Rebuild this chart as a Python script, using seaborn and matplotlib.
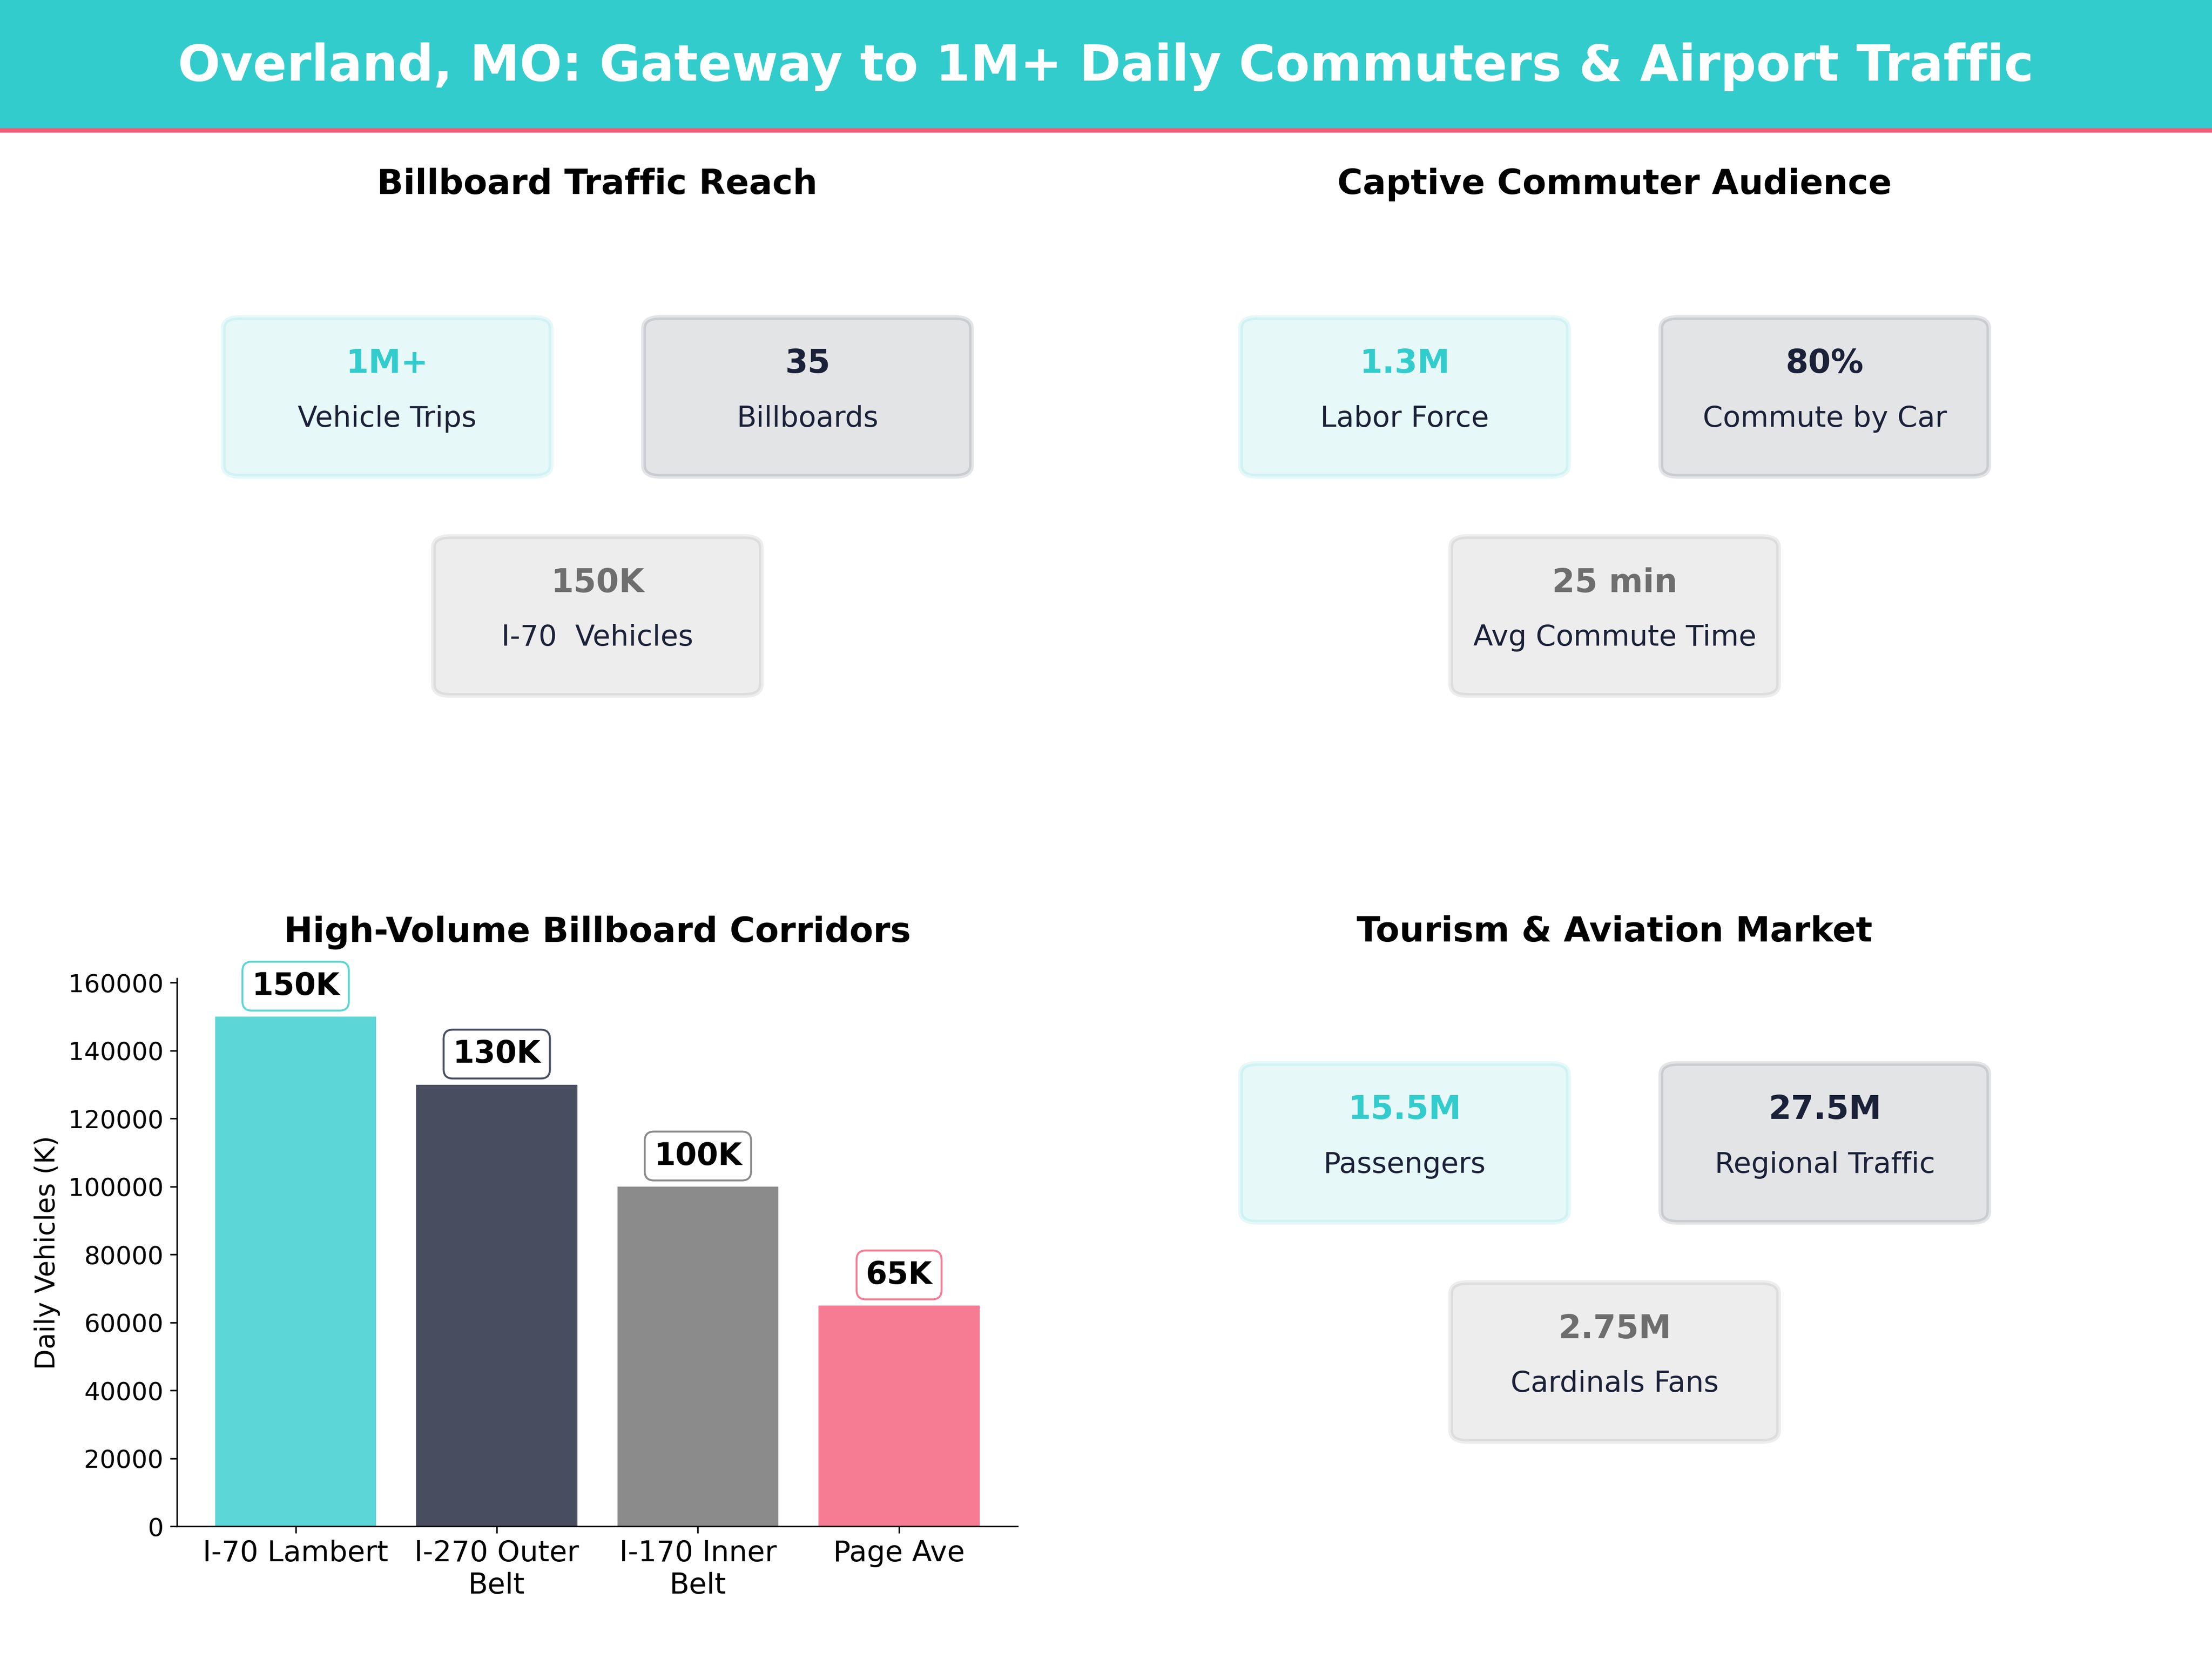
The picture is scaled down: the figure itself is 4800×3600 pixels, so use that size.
import matplotlib
matplotlib.use("Agg")
import matplotlib.pyplot as plt
from matplotlib.patches import FancyBboxPatch, Rectangle
import pandas as pd
import seaborn as sns

# Colours
TEAL = "#33CCCC"
NAVY = "#1A2138"
GRAY = "#6E6E6E"
PINK = "#F45B79"

HEADER = "Overland, MO: Gateway to 1M+ Daily Commuters & Airport Traffic"

# Card panels
REACH_TITLE = "Billboard Traffic Reach"
REACH_VALUES = ["1M+", "35", "150K"]
REACH_LABELS = ["Vehicle Trips", "Billboards", "I-70  Vehicles"]

COMMUTER_TITLE = "Captive Commuter Audience"
COMMUTER_VALUES = ["1.3M", "80%", "25 min"]
COMMUTER_LABELS = ["Labor Force", "Commute by Car", "Avg Commute Time"]

TOURISM_TITLE = "Tourism & Aviation Market"
TOURISM_VALUES = ["15.5M", "27.5M", "2.75M"]
TOURISM_LABELS = ["Passengers", "Regional Traffic", "Cardinals Fans"]

# Bar panel
BAR_TITLE = "High-Volume Billboard Corridors"
CORRIDORS = ["I-70 Lambert", "I-270 Outer\nBelt", "I-170 Inner\nBelt", "Page Ave"]
VEHICLES = [150000, 130000, 100000, 65000]
VEHICLE_LABELS = ["150K", "130K", "100K", "65K"]
BAR_COLORS = [TEAL, NAVY, GRAY, PINK]

CARD_COLORS = [TEAL, NAVY, GRAY]
VALUE_COLORS = [TEAL, NAVY, GRAY]
CARD_CENTERS = [(0.25, 0.70), (0.75, 0.70), (0.50, 0.30)]


def draw_cards(ax, title, values, labels, pad=20):
    ax.set_xlim(0, 1)
    ax.set_ylim(0, 1)
    ax.axis("off")
    ax.set_title(title, fontsize=18, fontweight="bold", pad=pad)
    for (cx, cy), value, label, card, vcol in zip(CARD_CENTERS, values, labels, CARD_COLORS, VALUE_COLORS):
        ax.add_patch(FancyBboxPatch((cx - 0.175, cy - 0.125), 0.35, 0.25,
                                    boxstyle="round,pad=0.02", facecolor=card,
                                    edgecolor=card, linewidth=2.5, alpha=0.12))
        ax.text(cx, cy + 0.06, value, ha="center", va="center", fontsize=17,
                fontweight="bold", color=vcol)
        ax.text(cx, cy - 0.04, label, ha="center", va="center", fontsize=15, color=NAVY)


def draw_bars(ax, pad=20):
    df = pd.DataFrame({"corridor": CORRIDORS, "vehicles": VEHICLES})
    sns.barplot(data=df, x="corridor", y="vehicles", hue="corridor", palette=BAR_COLORS,
                saturation=1, alpha=0.8, legend=False, ax=ax)
    ax.set_xlim(-0.59, 3.59)
    ax.set_ylim(0, 161200)
    ax.set_title(BAR_TITLE, fontsize=18, fontweight="bold", pad=pad)
    ax.set_xlabel("")
    ax.set_ylabel("Daily Vehicles (K)", fontsize=14)
    ax.tick_params(axis="x", labelsize=15)
    ax.tick_params(axis="y", labelsize=13)
    sns.despine(ax=ax)
    for i, (val, text, col) in enumerate(zip(VEHICLES, VEHICLE_LABELS, BAR_COLORS)):
        ax.text(i, val + 4500, text, ha="center", va="bottom", fontsize=16, fontweight="bold",
                bbox=dict(boxstyle="round,pad=0.3", facecolor="white", edgecolor=col, alpha=0.8))


fig = plt.figure(figsize=(16, 12), dpi=300)
gs = fig.add_gridspec(2, 2, left=0.08, right=0.92, top=0.8598, bottom=0.08, wspace=0.21, hspace=0.362)

# Header band
fig.patches.append(Rectangle((-0.01, 0.9214), 1.02, 0.09, transform=fig.transFigure, facecolor=TEAL,
                             edgecolor=PINK, linewidth=2.3, zorder=5))
fig.text(0.5, 0.9597, HEADER, ha="center", va="center", fontsize=26, fontweight="bold",
         color="white", zorder=6)

draw_cards(fig.add_subplot(gs[0, 0]), REACH_TITLE, REACH_VALUES, REACH_LABELS)
draw_cards(fig.add_subplot(gs[0, 1]), COMMUTER_TITLE, COMMUTER_VALUES, COMMUTER_LABELS)
draw_bars(fig.add_subplot(gs[1, 0]), pad=19.3)
draw_cards(fig.add_subplot(gs[1, 1]), TOURISM_TITLE, TOURISM_VALUES, TOURISM_LABELS, pad=19.3)

fig.savefig("out.png", dpi=300)
plt.close(fig)
